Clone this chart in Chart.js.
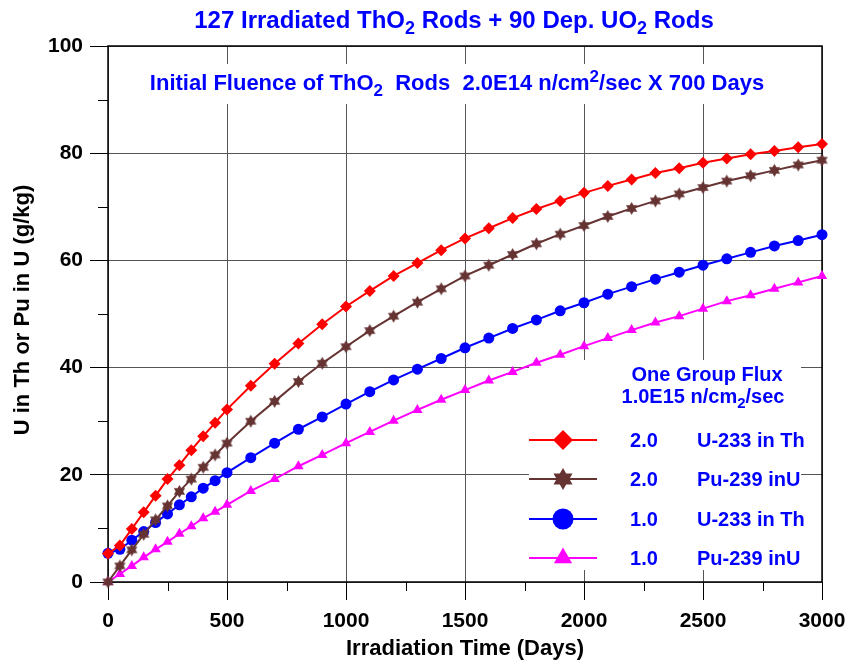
<!DOCTYPE html>
<html>
<head>
<meta charset="utf-8">
<script src="https://cdn.jsdelivr.net/npm/chart.js@4.4.0/dist/chart.umd.min.js"></script>
<style>
  html, body { margin: 0; padding: 0; background: #fff; }
</style>
</head>
<body>
<canvas id="chart" width="846" height="663"></canvas>
<script>
// irradiation time (days)
const days = [0, 50, 100, 150, 200, 250, 300, 350, 400, 450, 500,
  600, 700, 800, 900, 1000, 1100, 1200, 1300, 1400, 1500, 1600, 1700, 1800,
  1900, 2000, 2100, 2200, 2300, 2400, 2500, 2600, 2700, 2800, 2900, 3000];

// 2.0 U-233 in Th
const u233Th20 = [5.3, 6.8, 9.9, 13.0, 16.1, 19.2, 21.8, 24.6, 27.2, 29.7, 32.2,
  36.6, 40.7, 44.5, 48.1, 51.4, 54.3, 57.1, 59.5, 61.9, 64.1, 66.0, 67.9, 69.6,
  71.1, 72.6, 73.9, 75.1, 76.3, 77.2, 78.2, 79.0, 79.8, 80.4, 81.1, 81.7];

// 2.0 Pu-239 in U
const pu239U20 = [0, 3.0, 6.0, 8.9, 11.6, 14.2, 16.9, 19.2, 21.4, 23.7, 25.9,
  30.0, 33.7, 37.4, 40.8, 43.9, 46.9, 49.6, 52.2, 54.7, 57.1, 59.1, 61.1, 63.1,
  64.9, 66.5, 68.2, 69.7, 71.1, 72.4, 73.6, 74.8, 75.8, 76.8, 77.8, 78.7];

// 1.0 U-233 in Th
const u233Th10 = [5.35, 6.1, 7.8, 9.4, 11.1, 12.7, 14.4, 15.9, 17.5, 18.9, 20.4,
  23.2, 25.9, 28.5, 30.8, 33.2, 35.5, 37.7, 39.7, 41.7, 43.7, 45.5, 47.3, 48.9,
  50.6, 52.1, 53.7, 55.1, 56.5, 57.8, 59.1, 60.3, 61.5, 62.7, 63.7, 64.8];

// 1.0 Pu-239 in U
const pu239U10 = [0, 1.5, 3.0, 4.6, 6.1, 7.5, 9.0, 10.4, 11.9, 13.1, 14.4,
  17.0, 19.2, 21.6, 23.7, 25.9, 28.0, 30.1, 32.1, 34.0, 35.8, 37.6, 39.2, 40.9,
  42.4, 44.0, 45.5, 47.0, 48.4, 49.6, 51.0, 52.4, 53.5, 54.7, 55.9, 57.1];

const xMinorTicks = [250, 750, 1250, 1750, 2250, 2750];
const yMinorTicks = [10, 30, 50, 70, 90];

const legendFlux = ['2.0', '2.0', '1.0', '1.0'];
const legendNames = ['U-233 in Th', 'Pu-239 inU', 'U-233 in Th', 'Pu-239 inU'];

const FONT = '"Liberation Sans", Arial, Helvetica, sans-serif';
const BLUE = '#0000ff';
const BROWN = '#663333';

// filled six point star (used as point style)
function makeStar(r, color) {
    const s = Math.ceil(r * 2 + 2);
    const c = document.createElement('canvas');
    c.width = s; c.height = s;
    const g = c.getContext('2d');
    g.fillStyle = color;
    g.beginPath();
    for (let i = 0; i < 12; i++) {
        const a = -Math.PI / 2 + i * Math.PI / 6;
        const rr = i % 2 ? r * 0.58 : r;
        g.lineTo(s / 2 + rr * Math.cos(a), s / 2 + rr * Math.sin(a));
    }
    g.closePath();
    g.fill();
    return c;
}
const starSmall = makeStar(6.5, BROWN);
const starBig = makeStar(11, BROWN);

function pts(ys) {
    return days.map((d, i) => ({ x: d, y: ys[i] }));
}

// text with sub/superscripts; parts = [[text, 0 normal | 1 sub | 2 sup], ...]
function richText(ctx, parts, x, y, size, align, color) {
    const small = Math.round(size * 0.75);
    let w = 0;
    parts.forEach(p => {
        ctx.font = `bold ${p[1] ? small : size}px ${FONT}`;
        w += ctx.measureText(p[0]).width;
    });
    let cx = align === 'center' ? x - w / 2 : x;
    ctx.textAlign = 'left';
    ctx.textBaseline = 'alphabetic';
    ctx.fillStyle = color;
    parts.forEach(p => {
        ctx.font = `bold ${p[1] ? small : size}px ${FONT}`;
        const dy = p[1] === 1 ? size * 0.25 : p[1] === 2 ? -size * 0.38 : 0;
        ctx.fillText(p[0], cx, y + dy);
        cx += ctx.measureText(p[0]).width;
    });
}

const decorPlugin = {
    id: 'decor',
    beforeDatasetsDraw(chart) {
        const { ctx, chartArea: a } = chart;
        ctx.save();
        // white boxes behind subtitle and legend
        ctx.fillStyle = '#fff';
        ctx.fillRect(140, 64, 650, 40);
        ctx.fillRect(529, 360, 272, 210);
        // frame
        ctx.strokeStyle = '#000';
        ctx.lineWidth = 1.5;
        ctx.strokeRect(a.left, a.top, a.right - a.left, a.bottom - a.top);
        // minor ticks
        ctx.lineWidth = 1;
        const xs = chart.scales.x, ys = chart.scales.y;
        ctx.beginPath();
        xMinorTicks.forEach(v => {
            const px = Math.round(xs.getPixelForValue(v)) + 0.5;
            ctx.moveTo(px, a.bottom);
            ctx.lineTo(px, a.bottom + 9);
        });
        yMinorTicks.forEach(v => {
            const py = Math.round(ys.getPixelForValue(v)) + 0.5;
            ctx.moveTo(a.left - 10, py);
            ctx.lineTo(a.left, py);
        });
        ctx.stroke();
        ctx.restore();
    },
    afterDatasetsDraw(chart) {
        const { ctx } = chart;
        ctx.save();
        // titles
        richText(ctx, [['127 Irradiated ThO', 0], ['2', 1], [' Rods + 90 Dep. UO', 0], ['2', 1], [' Rods', 0]],
            454, 28, 24, 'center', BLUE);
        richText(ctx, [['Initial Fluence of ThO', 0], ['2', 1], ['  Rods  2.0E14 n/cm', 0], ['2', 2], ['/sec X 700 Days', 0]],
            457, 90, 22, 'center', BLUE);
        // axis titles
        richText(ctx, [['Irradiation Time (Days)', 0]], 465, 655, 22, 'center', '#000');
        ctx.save();
        ctx.translate(29, 310);
        ctx.rotate(-Math.PI / 2);
        richText(ctx, [['U in Th or Pu in U (g/kg)', 0]], 0, 0, 22, 'center', '#000');
        ctx.restore();

        // legend
        richText(ctx, [['One Group Flux', 0]], 707, 381, 20, 'center', BLUE);
        richText(ctx, [['1.0E15 n/cm', 0], ['2', 1], ['/sec', 0]], 703, 403, 20, 'center', BLUE);
        const ds = chart.data.datasets;
        const rowY = [440, 479, 519, 558];
        const bigStyle = [
            { pointStyle: 'rectRot', radius: 10 },
            { pointStyle: starBig, radius: 10 },
            { pointStyle: 'circle', radius: 10.5 },
            { pointStyle: 'triangle', radius: 10.5 }
        ];
        ds.forEach((d, i) => {
            const y = rowY[i];
            ctx.strokeStyle = d.borderColor;
            ctx.lineWidth = 2;
            ctx.beginPath();
            ctx.moveTo(529, y);
            ctx.lineTo(597, y);
            ctx.stroke();
            ctx.fillStyle = d.borderColor;
            Chart.helpers.drawPoint(ctx, Object.assign({ rotation: 0, borderWidth: 0 }, bigStyle[i]), 563, y);
            richText(ctx, [[legendFlux[i], 0]], 644, y + 7, 20, 'center', BLUE);
            richText(ctx, [[legendNames[i], 0]], 697, y + 7, 20, 'left', BLUE);
        });
        ctx.restore();
    }
};

const common = { borderWidth: 2, pointBorderWidth: 0, fill: false, tension: 0, clip: false };

const ctx = document.getElementById('chart').getContext('2d');
window.chart = new Chart(ctx, {
    type: 'line',
    data: {
        datasets: [
            Object.assign({ label: '2.0 U-233 in Th', data: pts(u233Th20), borderColor: '#ff0000', backgroundColor: '#ff0000',
                pointStyle: 'rectRot', pointRadius: 6 }, common),
            Object.assign({ label: '2.0 Pu-239 inU', data: pts(pu239U20), borderColor: BROWN, backgroundColor: BROWN,
                pointStyle: starSmall, pointRadius: 6 }, common),
            Object.assign({ label: '1.0 U-233 in Th', data: pts(u233Th10), borderColor: BLUE, backgroundColor: BLUE,
                pointStyle: 'circle', pointRadius: 5.5 }, common),
            Object.assign({ label: '1.0 Pu-239 inU', data: pts(pu239U10), borderColor: '#ff00ff', backgroundColor: '#ff00ff',
                pointStyle: 'triangle', pointRadius: 6 }, common)
        ]
    },
    options: {
        responsive: false,
        animation: false,
        devicePixelRatio: 1,
        layout: { padding: { left: 0, top: 46, right: 24, bottom: 0 } },
        plugins: { legend: { display: false }, tooltip: { enabled: false } },
        scales: {
            x: {
                type: 'linear', min: 0, max: 3000,
                afterFit: s => { s.height = 81; s.paddingLeft = 0; s.paddingRight = 0; },
                ticks: { stepSize: 500, color: '#000', padding: 9, callback: v => String(v),
                    font: { family: FONT, size: 21, weight: 'bold' } },
                grid: { color: '#555', lineWidth: 1, tickColor: '#000', tickLength: 18 },
                border: { display: false }
            },
            y: {
                min: 0, max: 100,
                afterFit: s => { s.width = 108; s.paddingTop = 0; s.paddingBottom = 0; },
                ticks: { stepSize: 20, color: '#000', padding: 7, font: { family: FONT, size: 21, weight: 'bold' } },
                grid: { color: '#555', lineWidth: 1, tickColor: '#000', tickLength: 18 },
                border: { display: false }
            }
        }
    },
    plugins: [decorPlugin]
});
</script>
</body>
</html>
